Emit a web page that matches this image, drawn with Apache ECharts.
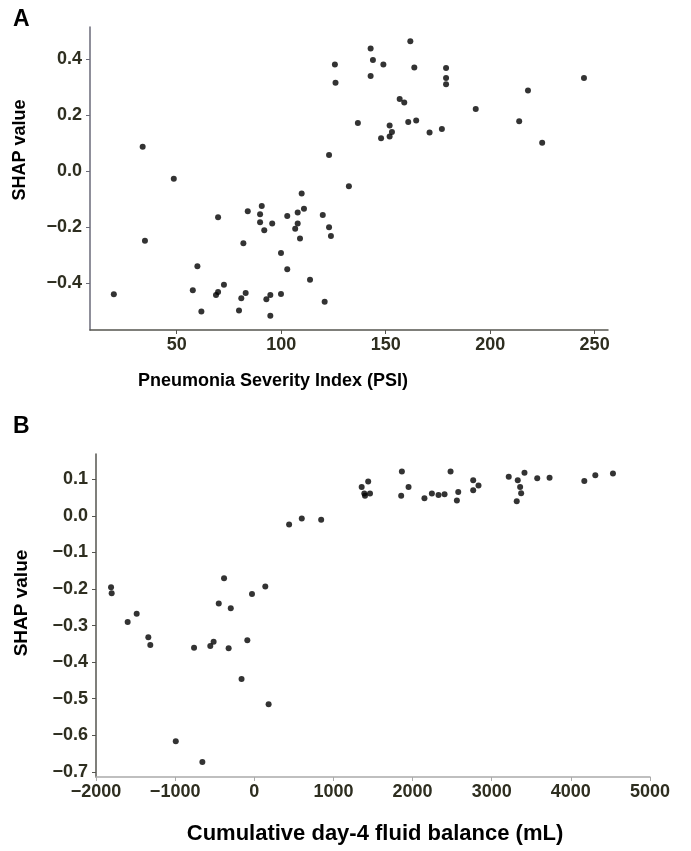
<!DOCTYPE html>
<html>
<head>
<meta charset="utf-8">
<title>SHAP dependence plots</title>
<script src="https://cdn.jsdelivr.net/npm/echarts@6/dist/echarts.min.js"></script>
<style>
  html, body { margin: 0; padding: 0; background: #fff; }
  #chart { width: 691px; height: 851px; }
</style>
</head>
<body>
<div id="chart"></div>
<script>
// panel A: PSI vs SHAP
var psiValues = [19.9, 33.7, 34.8, 48.6, 57.7, 59.9, 61.8, 68.8, 69.8, 69.8, 72.6, 79.8, 80.9, 81.9, 83.0, 84.0,
  89.9, 89.9, 90.7, 91.9, 92.9, 94.8, 94.8, 95.7, 99.9, 99.9, 102.9, 102.9, 106.7, 107.9, 107.9, 109.0,
  109.8, 110.9, 113.8, 119.9, 120.8, 122.9, 123.8, 122.9, 125.7, 126.0, 132.4, 136.7, 142.8, 143.9,
  142.8, 147.8, 148.9, 151.9, 153.0, 151.9, 156.7, 158.9, 160.8, 161.8, 163.7, 164.6, 171.0, 176.9,
  178.9, 178.9, 178.9, 193.1, 213.9, 218.1, 224.9, 244.9]
var psiShap = [-0.440, 0.086, -0.249, -0.028, -0.426, -0.340, -0.502, -0.443, -0.432, -0.165, -0.406, -0.498, -0.455, -0.258, -0.436, -0.144,
  -0.155, -0.183, -0.125, -0.212, -0.458, -0.443, -0.517, -0.188, -0.293, -0.439, -0.161, -0.351, -0.206, -0.148, -0.188, -0.241,
  -0.081, -0.135, -0.389, -0.157, -0.467, -0.201, -0.232, 0.057, 0.380, 0.315, -0.055, 0.171, 0.437, 0.396,
  0.339, 0.117, 0.380, 0.162, 0.139, 0.123, 0.257, 0.244, 0.175, 0.463, 0.369, 0.180, 0.137, 0.150,
  0.368, 0.332, 0.310, 0.221, 0.177, 0.287, 0.101, 0.332]
var psiTicks = [50, 100, 150, 200, 250]
var shapTicksA = [-0.4, -0.2, 0.0, 0.2, 0.4]

// panel B: fluid balance vs SHAP
var fluidValues = [-1810, -1802, -1600, -1486, -1339, -1314, -992, -761, -656, -556, -514, -449, -382, -324, -297, -161,
  -88, -29, 139, 181, 440, 600, 845, 1357, 1439, 1390, 1399, 1462, 1865, 1949, 1856, 2150,
  2244, 2328, 2404, 2480, 2577, 2560, 2766, 2833, 2766, 3215, 3414, 3329, 3359, 3372, 3316, 3575,
  3731, 4170, 4309, 4532]
var fluidShap = [-0.195, -0.212, -0.290, -0.268, -0.332, -0.353, -0.616, -0.361, -0.673, -0.356, -0.344, -0.240, -0.171, -0.362, -0.253, -0.446,
  -0.340, -0.214, -0.193, -0.515, -0.024, -0.007, -0.011, 0.079, 0.094, 0.061, 0.055, 0.061, 0.121, 0.079, 0.055, 0.048,
  0.061, 0.057, 0.059, 0.121, 0.065, 0.042, 0.097, 0.083, 0.070, 0.107, 0.118, 0.097, 0.079, 0.062, 0.040, 0.103,
  0.104, 0.095, 0.111, 0.116]
var fluidTicks = [-2000, -1000, 0, 1000, 2000, 3000, 4000, 5000]
var shapTicksB = [-0.7, -0.6, -0.5, -0.4, -0.3, -0.2, -0.1, 0.0, 0.1]

var FONT = "'Liberation Sans', Arial, sans-serif"
var LABEL_COLOR = '#2e2e20'

function zip (xs, ys) {
  return xs.map(function (x, i) { return [x, ys[i]] })
}
function fmtNum (digits) {
  return function (v) {
    var s = Math.abs(v).toFixed(digits)
    return (v < -1e-9 ? '\u2212' : '') + s
  }
}
// axis line, ticks and labels at the given tick values
function axisParts (color, ticks, digits, margin) {
  return {
    axisLine: { show: true, onZero: false, lineStyle: { color: color, width: 1.5 } },
    axisTick: { show: true, customValues: ticks, length: 4, lineStyle: { color: color, width: 1 } },
    splitLine: { show: false },
    axisLabel: {
      customValues: ticks,
      formatter: fmtNum(digits),
      margin: margin,
      color: LABEL_COLOR,
      fontSize: 18,
      fontWeight: 'bold',
      fontFamily: FONT,
    },
  }
}

var chart = echarts.init(document.getElementById('chart'))

var option = {
  animation: false,
  textStyle: { fontFamily: FONT },
  grid: [
    { left: 90, top: 27, width: 518, height: 303 },
    { left: 96, top: 454, width: 554, height: 323 },
  ],
  xAxis: [
    Object.assign({ gridIndex: 0, type: 'value', min: 8.5, max: 256.4 },
      axisParts('#55554f', psiTicks, 0, 6)),
    Object.assign({ gridIndex: 1, type: 'value', min: -2000, max: 5000 },
      axisParts('#aaaaaa', fluidTicks, 0, 6)),
  ],
  yAxis: [
    Object.assign({ gridIndex: 0, type: 'value', min: -0.568, max: 0.514 },
      axisParts('#6a6a78', shapTicksA, 1, 8)),
    Object.assign({ gridIndex: 1, type: 'value', min: -0.714, max: 0.169 },
      axisParts('#55554f', shapTicksB, 1, 8)),
  ],
  series: [
    {
      type: 'scatter',
      xAxisIndex: 0,
      yAxisIndex: 0,
      symbolSize: 6,
      itemStyle: { color: '#000' },
      data: zip(psiValues, psiShap),
    },
    {
      type: 'scatter',
      xAxisIndex: 1,
      yAxisIndex: 1,
      symbolSize: 6,
      itemStyle: { color: '#000' },
      data: zip(fluidValues, fluidShap),
    },
  ],
  graphic: [
    { type: 'text', left: 13, top: 8, style: { text: 'A', font: 'bold 23px ' + FONT, fill: '#000' } },
    { type: 'text', left: 13, top: 415, style: { text: 'B', font: 'bold 23px ' + FONT, fill: '#000' } },
    // axis titles
    { type: 'text', x: 273, y: 381, style: { text: 'Pneumonia Severity Index (PSI)', font: 'bold 18px ' + FONT, fill: '#000', align: 'center', verticalAlign: 'middle' } },
    { type: 'text', x: 375, y: 834, style: { text: 'Cumulative day-4 fluid balance (mL)', font: 'bold 22px ' + FONT, fill: '#000', align: 'center', verticalAlign: 'middle' } },
    { type: 'text', x: 20, y: 150, rotation: Math.PI / 2, style: { text: 'SHAP value', font: 'bold 18px ' + FONT, fill: '#000', align: 'center', verticalAlign: 'middle' } },
    { type: 'text', x: 22, y: 603, rotation: Math.PI / 2, style: { text: 'SHAP value', font: 'bold 19px ' + FONT, fill: '#000', align: 'center', verticalAlign: 'middle' } },
  ],
}
chart.setOption(option)
window.onresize = chart.resize
</script>
</body>
</html>
